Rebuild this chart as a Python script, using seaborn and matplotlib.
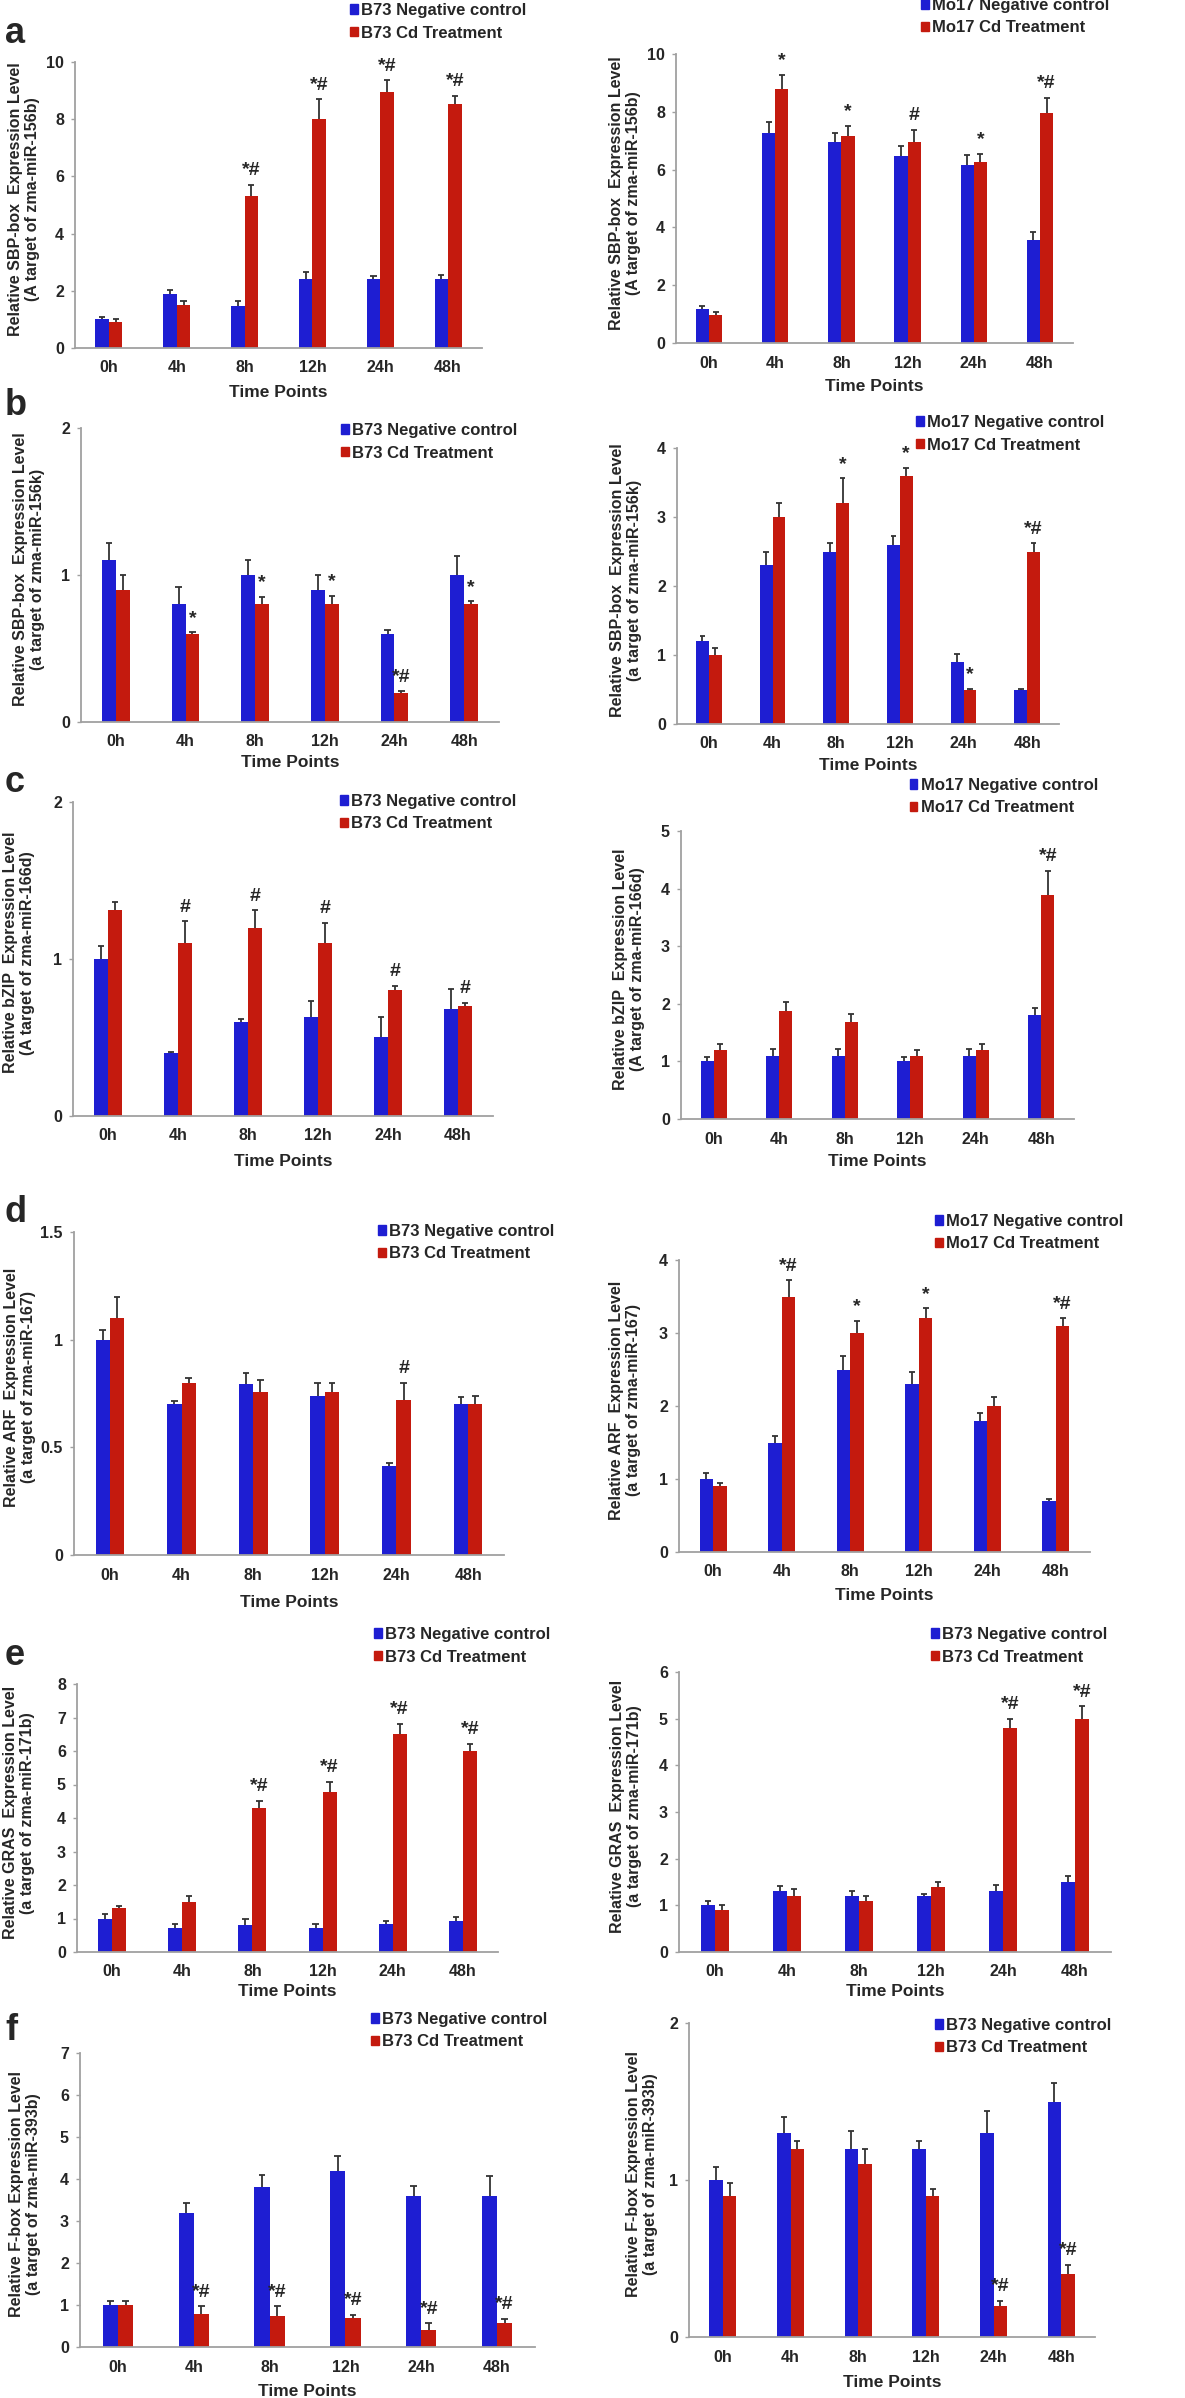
import matplotlib
matplotlib.use('Agg')
import matplotlib.pyplot as plt
from matplotlib.patches import Patch
from matplotlib.ticker import FormatStrFormatter
import pandas as pd
import seaborn as sns

times = ['0h', '4h', '8h', '12h', '24h', '48h']

# a - SBP-box (zma-miR-156b)
a_b73_ctrl = [1.0, 1.9, 1.46, 2.4, 2.4, 2.4]
a_b73_ctrl_err = [0.1, 0.14, 0.2, 0.26, 0.12, 0.15]
a_b73_cd = [0.91, 1.5, 5.33, 8.0, 8.94, 8.53]
a_b73_cd_err = [0.12, 0.15, 0.38, 0.7, 0.42, 0.29]
a_b73_marks = ['', '', '*#', '*#', '*#', '*#']

a_mo17_ctrl = [1.18, 7.27, 6.95, 6.48, 6.16, 3.58]
a_mo17_ctrl_err = [0.11, 0.38, 0.33, 0.32, 0.33, 0.25]
a_mo17_cd = [0.97, 8.79, 7.17, 6.97, 6.25, 7.97]
a_mo17_cd_err = [0.1, 0.5, 0.35, 0.41, 0.29, 0.52]
a_mo17_marks = ['', '*', '*', '#', '*', '*#']

# b - SBP-box (zma-miR-156k)
b_b73_ctrl = [1.1, 0.8, 1.0, 0.9, 0.6, 1.0]
b_b73_ctrl_err = [0.12, 0.12, 0.1, 0.1, 0.025, 0.13]
b_b73_cd = [0.9, 0.6, 0.8, 0.8, 0.2, 0.8]
b_b73_cd_err = [0.1, 0.01, 0.05, 0.06, 0.01, 0.02]
b_b73_marks = ['', '*', '*', '*', '*#', '*']

b_mo17_ctrl = [1.2, 2.3, 2.5, 2.6, 0.9, 0.49]
b_mo17_ctrl_err = [0.08, 0.2, 0.12, 0.12, 0.11, 0.02]
b_mo17_cd = [1.0, 3.0, 3.2, 3.6, 0.49, 2.5]
b_mo17_cd_err = [0.1, 0.2, 0.36, 0.11, 0.02, 0.12]
b_mo17_marks = ['', '', '*', '*', '*', '*#']

# c - bZIP (zma-miR-166d)
c_b73_ctrl = [1.0, 0.4, 0.6, 0.63, 0.5, 0.68]
c_b73_ctrl_err = [0.08, 0.01, 0.02, 0.1, 0.13, 0.13]
c_b73_cd = [1.31, 1.1, 1.2, 1.1, 0.8, 0.7]
c_b73_cd_err = [0.05, 0.14, 0.11, 0.13, 0.03, 0.02]
c_b73_marks = ['', '#', '#', '#', '#', '#']

c_mo17_ctrl = [1.0, 1.09, 1.09, 1.0, 1.09, 1.8]
c_mo17_ctrl_err = [0.075, 0.12, 0.12, 0.075, 0.12, 0.12]
c_mo17_cd = [1.2, 1.88, 1.69, 1.09, 1.2, 3.89]
c_mo17_cd_err = [0.1, 0.15, 0.13, 0.1, 0.1, 0.42]
c_mo17_marks = ['', '', '', '', '', '*#']

# d - ARF (zma-miR-167)
d_b73_ctrl = [1.0, 0.7, 0.795, 0.74, 0.415, 0.7]
d_b73_ctrl_err = [0.045, 0.015, 0.05, 0.06, 0.01, 0.035]
d_b73_cd = [1.1, 0.8, 0.755, 0.755, 0.72, 0.7]
d_b73_cd_err = [0.1, 0.02, 0.06, 0.045, 0.08, 0.04]
d_b73_marks = ['', '', '', '', '#', '']

d_mo17_ctrl = [1.0, 1.5, 2.49, 2.3, 1.8, 0.7]
d_mo17_ctrl_err = [0.08, 0.09, 0.2, 0.17, 0.11, 0.02]
d_mo17_cd = [0.9, 3.5, 3.0, 3.2, 2.0, 3.1]
d_mo17_cd_err = [0.05, 0.22, 0.17, 0.14, 0.13, 0.1]
d_mo17_marks = ['', '*#', '*', '*', '', '*#']

# e - GRAS (zma-miR-171b)
e_left_ctrl = [1.0, 0.72, 0.8, 0.72, 0.83, 0.93]
e_left_ctrl_err = [0.12, 0.11, 0.18, 0.11, 0.11, 0.12]
e_left_cd = [1.32, 1.5, 4.3, 4.79, 6.5, 6.0]
e_left_cd_err = [0.05, 0.18, 0.22, 0.29, 0.32, 0.22]
e_left_marks = ['', '', '*#', '*#', '*#', '*#']

e_right_ctrl = [1.0, 1.3, 1.19, 1.19, 1.3, 1.51]
e_right_ctrl_err = [0.09, 0.11, 0.11, 0.05, 0.14, 0.11]
e_right_cd = [0.89, 1.19, 1.1, 1.4, 4.79, 5.0]
e_right_cd_err = [0.11, 0.15, 0.09, 0.09, 0.21, 0.27]
e_right_marks = ['', '', '', '', '*#', '*#']

# f - F-box (zma-miR-393b)
f_left_ctrl = [1.0, 3.19, 3.81, 4.2, 3.6, 3.6]
f_left_ctrl_err = [0.1, 0.24, 0.29, 0.34, 0.23, 0.48]
f_left_cd = [1.0, 0.79, 0.73, 0.69, 0.4, 0.57]
f_left_cd_err = [0.1, 0.18, 0.24, 0.08, 0.16, 0.1]
f_left_marks = ['', '*#', '*#', '*#', '*#', '*#']

f_right_ctrl = [1.0, 1.3, 1.2, 1.2, 1.3, 1.5]
f_right_ctrl_err = [0.08, 0.1, 0.11, 0.05, 0.14, 0.12]
f_right_cd = [0.9, 1.2, 1.1, 0.9, 0.2, 0.4]
f_right_cd_err = [0.08, 0.05, 0.1, 0.04, 0.03, 0.06]
f_right_marks = ['', '', '', '', '*#', '*#']

lab_sbp_b = 'Relative SBP-box  Expression Level\n(A target of zma-miR-156b)'
lab_sbp_k = 'Relative SBP-box  Expression Level\n(a target of zma-miR-156k)'
lab_bzip = 'Relative bZIP  Expression Level\n(A target of zma-miR-166d)'
lab_arf = 'Relative ARF  Expression Level\n(a target of zma-miR-167)'
lab_gras = 'Relative GRAS  Expression Level\n(a target of zma-miR-171b)'
lab_fbox = 'Relative F-box Expression Level\n(a target of zma-miR-393b)'

leg_b73 = ['B73 Negative control', 'B73 Cd Treatment']
leg_mo17 = ['Mo17 Negative control', 'Mo17 Cd Treatment']

BLUE = '#1e1ed2'
RED = '#c41a0e'
W, H = 1185, 2398

sns.set_theme(style='white')
plt.rcParams['font.family'] = ['Liberation Sans Narrow', 'Liberation Sans', 'DejaVu Sans']
plt.rcParams['font.weight'] = 'bold'

# (ctrl, ctrl_err, cd, cd_err, marks, ymax, ystep, ylabel, legend,
#  axes box px (l, t, r, b), legend anchor px, ylabel off, xlabel off)
panels = [
    (a_b73_ctrl, a_b73_ctrl_err, a_b73_cd, a_b73_cd_err, a_b73_marks, 10, 2, lab_sbp_b, leg_b73,
     (75, 62, 482, 348), (350, 3), 35, 37),
    (a_mo17_ctrl, a_mo17_ctrl_err, a_mo17_cd, a_mo17_cd_err, a_mo17_marks, 10, 2, lab_sbp_b, leg_mo17,
     (676, 54, 1073, 343), (921, -2), 35, 36),
    (b_b73_ctrl, b_b73_ctrl_err, b_b73_cd, b_b73_cd_err, b_b73_marks, 2, 1, lab_sbp_k, leg_b73,
     (81, 428, 499, 722), (341, 423), 36, 33),
    (b_mo17_ctrl, b_mo17_ctrl_err, b_mo17_cd, b_mo17_cd_err, b_mo17_marks, 4, 1, lab_sbp_k, leg_mo17,
     (677, 448, 1059, 724), (916, 415), 35, 34),
    (c_b73_ctrl, c_b73_ctrl_err, c_b73_cd, c_b73_cd_err, c_b73_marks, 2, 1, lab_bzip, leg_b73,
     (73, 802, 493, 1116), (340, 794), 38, 38),
    (c_mo17_ctrl, c_mo17_ctrl_err, c_mo17_cd, c_mo17_cd_err, c_mo17_marks, 5, 1, lab_bzip, leg_mo17,
     (681, 831, 1074, 1119), (910, 778), 36, 35),
    (d_b73_ctrl, d_b73_ctrl_err, d_b73_cd, d_b73_cd_err, d_b73_marks, 1.5, 0.5, lab_arf, leg_b73,
     (74, 1232, 504, 1555), (378, 1224), 38, 40),
    (d_mo17_ctrl, d_mo17_ctrl_err, d_mo17_cd, d_mo17_cd_err, d_mo17_marks, 4, 1, lab_arf, leg_mo17,
     (679, 1260, 1090, 1552), (935, 1214), 38, 36),
    (e_left_ctrl, e_left_ctrl_err, e_left_cd, e_left_cd_err, e_left_marks, 8, 1, lab_gras, leg_b73,
     (77, 1684, 498, 1952), (374, 1627), 42, 32),
    (e_right_ctrl, e_right_ctrl_err, e_right_cd, e_right_cd_err, e_right_marks, 6, 1, lab_gras, leg_b73,
     (679, 1672, 1111, 1952), (931, 1627), 37, 32),
    (f_left_ctrl, f_left_ctrl_err, f_left_cd, f_left_cd_err, f_left_marks, 7, 1, lab_fbox, leg_b73,
     (80, 2053, 535, 2347), (371, 2012), 39, 37),
    (f_right_ctrl, f_right_ctrl_err, f_right_cd, f_right_cd_err, f_right_marks, 2, 1, lab_fbox, leg_b73,
     (689, 2023, 1095, 2337), (935, 2018), 31, 38),
]

panel_letters = ['a', 'b', 'c', 'd', 'e', 'f']
letter_baselines = [43, 415, 792, 1222, 1665, 2040]

fig = plt.figure(figsize=(W / 100, H / 100), dpi=100)

for (ctrl, ctrl_err, cd, cd_err, marks, ymax, ystep, ylabel, legend,
     box, leg_xy, ylab_off, xlab_off) in panels:
    l, t, r, b = box
    ax = fig.add_axes([l / W, 1 - b / H, (r - l) / W, (b - t) / H])

    df = pd.DataFrame({
        'time': times * 2,
        'value': ctrl + cd,
        'group': [legend[0]] * len(times) + [legend[1]] * len(times),
    })
    sns.barplot(data=df, x='time', y='value', hue='group', palette=[BLUE, RED],
                width=0.4, errorbar=None, saturation=1, legend=False, linewidth=0, ax=ax)

    # one-sided error bars and significance marks
    for cont, vals, errs in [(ax.containers[0], ctrl, ctrl_err), (ax.containers[1], cd, cd_err)]:
        xs = [p.get_x() + p.get_width() / 2 for p in cont]
        tops = [v + e for v, e in zip(vals, errs)]
        ax.vlines(xs, vals, tops, color='#333333', lw=1.3, zorder=3)
        ax.hlines(tops, [x - 0.045 for x in xs], [x + 0.045 for x in xs],
                  color='#333333', lw=1.3, zorder=3)
    red_xs = [p.get_x() + p.get_width() / 2 for p in ax.containers[1]]
    for x, v, e, m in zip(red_xs, cd, cd_err, marks):
        if m:
            ax.annotate(m, (x, v + e), xytext=(0, 4), textcoords='offset points',
                        ha='center', va='bottom', fontsize=14, fontweight='bold')

    ax.set_xlim(-0.5, len(times) - 0.5)
    ax.set_ylim(0, ymax)
    n = int(round(ymax / ystep))
    ax.set_yticks([i * ystep for i in range(n + 1)])
    ax.yaxis.set_major_formatter(FormatStrFormatter('%g'))
    sns.despine(ax=ax)
    for s in ['left', 'bottom']:
        ax.spines[s].set_color('#a0a0a0')
        ax.spines[s].set_linewidth(1.3)
    ax.tick_params(axis='x', length=0, pad=9, labelsize=11.5)
    ax.tick_params(axis='y', length=3, width=1, color='#a0a0a0', pad=5, labelsize=11.5, left=True)
    for lab in ax.get_xticklabels() + ax.get_yticklabels():
        lab.set_fontweight('bold')

    ax.set_ylabel(ylabel, fontsize=11.5, fontweight='bold', linespacing=1.2)
    ax.yaxis.set_label_coords(-ylab_off / (r - l), 0.52)
    ax.set_xlabel('Time Points', fontsize=12.5, fontweight='bold')
    ax.xaxis.set_label_coords(0.5, -xlab_off / (b - t))

    handles = [Patch(color=BLUE, label=legend[0]), Patch(color=RED, label=legend[1])]
    fig.legend(handles=handles, loc='upper left',
               bbox_to_anchor=(leg_xy[0] / W, 1 - leg_xy[1] / H),
               frameon=False, handlelength=0.45, handleheight=0.5,
               handletextpad=0.2, labelspacing=0.45, borderpad=0, borderaxespad=0,
               prop={'weight': 'bold', 'size': 12})

for letter, yb in zip(panel_letters, letter_baselines):
    fig.text(5 / W, 1 - yb / H, letter, fontsize=26, fontweight='bold',
             family=['Liberation Sans', 'DejaVu Sans'], ha='left', va='baseline')

fig.savefig('out.png', dpi=100, facecolor='white')
